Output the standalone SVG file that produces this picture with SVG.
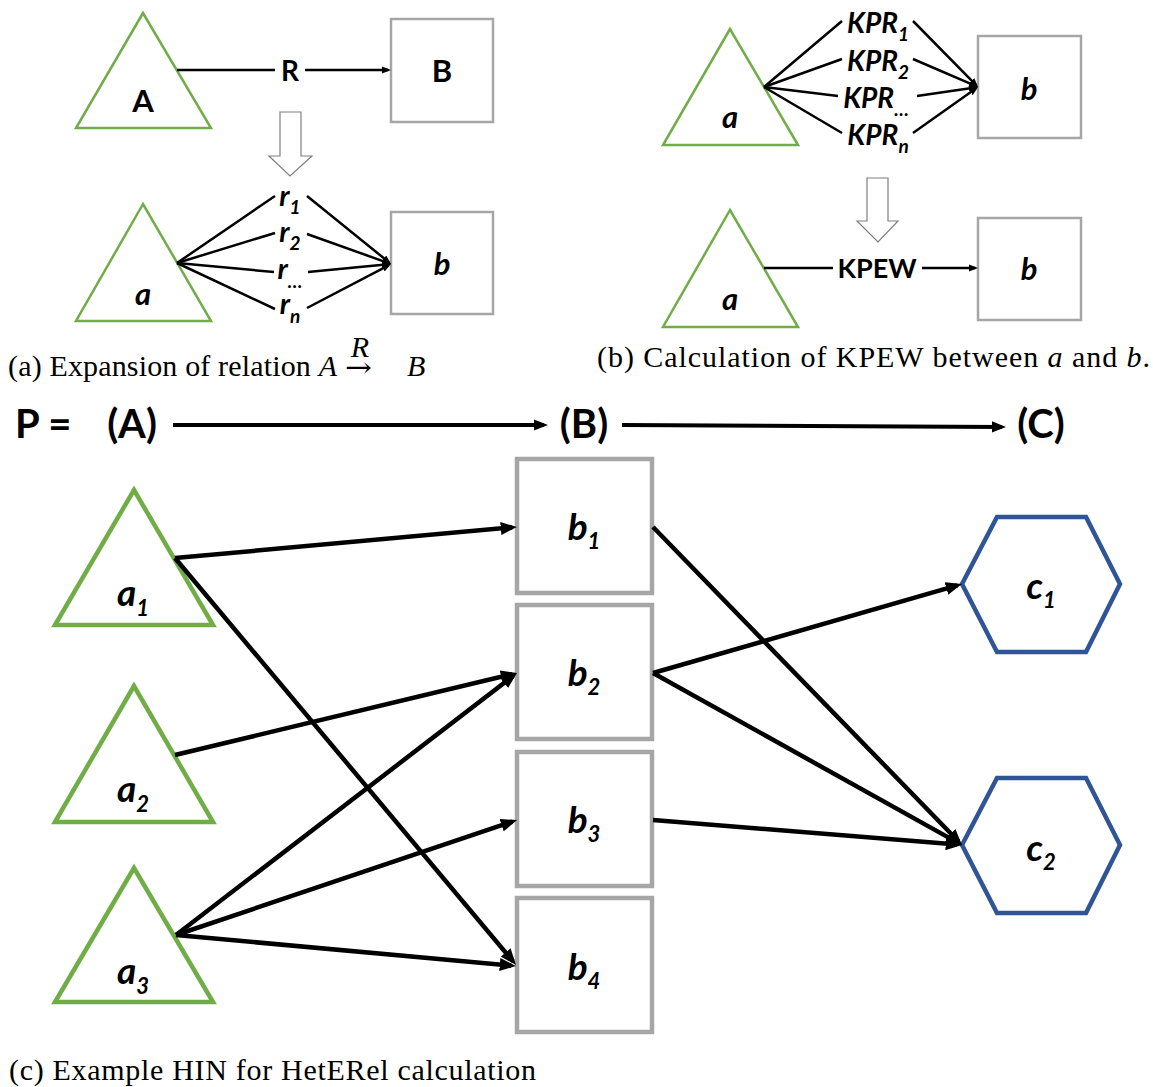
<svg xmlns="http://www.w3.org/2000/svg" width="1153" height="1087" viewBox="0 0 1153 1087">
  <style>
    .tri { fill: #ffffff; stroke: #70ad47; stroke-linejoin: miter; }
    .box { fill: #ffffff; stroke: #a6a6a6; }
    .hex { fill: #ffffff; stroke: #2f5597; stroke-linejoin: miter; }
    .thin { stroke-width: 2.5; }
    .thick { stroke-width: 4.5; }
    .edge { fill: none; stroke: #000000; }
    .edge-s { stroke-width: 2.5; }
    .edge-l { stroke-width: 4.5; }
    .hollow { fill: #ffffff; stroke: #7f7f7f; stroke-width: 1.2; }
    .lbl { font-family: "Lato", "Open Sans", "Liberation Sans", sans-serif; font-weight: bold; fill: #000000; text-anchor: middle; }
    .start { text-anchor: start; }
    .it { font-style: italic; }
    .cap { font-family: "Liberation Serif", "DejaVu Serif", serif; font-size: 30px; fill: #000000; }
    .sym { font-family: "DejaVu Serif", "Liberation Serif", serif; fill: #000000; }
  </style>
  <defs>
    <marker id="ah" viewBox="0 0 10 8" refX="7" refY="4" markerWidth="3.6" markerHeight="2.9" orient="auto" markerUnits="strokeWidth">
      <path d="M0,0 L10,4 L0,8 z" fill="#000000"/>
    </marker>
  </defs>

  <!-- (a) expansion of relation A -R-> B -->
  <g id="a-node-A">
    <polygon class="tri thin" points="143,13 76,128 211,128"/>
    <text class="lbl" x="143" y="112" font-size="31">A</text>
  </g>
  <g id="a-node-B">
    <rect class="box thin" x="391" y="19" width="102" height="103"/>
    <text class="lbl" x="442" y="82" font-size="31">B</text>
  </g>
  <g id="a-expand-arrow">
    <polygon class="hollow" points="280,112 301,112 301,156 312,156 290,176 269,156 280,156"/>
  </g>
  <g id="a-node-a">
    <polygon class="tri thin" points="143,204 76,321 211,321"/>
    <text class="lbl it" x="143" y="305" font-size="31">a</text>
  </g>
  <g id="a-node-b">
    <rect class="box thin" x="391" y="212" width="102" height="102"/>
    <text class="lbl it" x="442" y="275" font-size="31">b</text>
  </g>

  <!-- (b) KPEW between a and b -->
  <g id="b-node-a">
    <polygon class="tri thin" points="730,29 663,145 798,145"/>
    <text class="lbl it" x="730" y="128" font-size="31">a</text>
  </g>
  <g id="b-node-b">
    <rect class="box thin" x="978" y="36" width="103" height="102"/>
    <text class="lbl it" x="1029" y="100" font-size="31">b</text>
  </g>
  <g id="b-collapse-arrow">
    <polygon class="hollow" points="867,178 888,178 888,221 898,221 878,242 857,221 867,221"/>
  </g>
  <g id="b-node-a2">
    <polygon class="tri thin" points="730,210 663,327 798,327"/>
    <text class="lbl it" x="730" y="310" font-size="31">a</text>
  </g>
  <g id="b-node-b2">
    <rect class="box thin" x="978" y="218" width="103" height="102"/>
    <text class="lbl it" x="1029" y="280" font-size="31">b</text>
  </g>

  <!-- (c) example HIN -->
  <g id="node-a1">
    <polygon class="tri thick" points="134,490 55,625 213,625"/>
    <text class="lbl it" x="133" y="606" font-size="37">a<tspan dy="10" font-size="22">1</tspan></text>
  </g>
  <g id="node-a2">
    <polygon class="tri thick" points="134,686 55,822 213,822"/>
    <text class="lbl it" x="133" y="802" font-size="37">a<tspan dy="10" font-size="22">2</tspan></text>
  </g>
  <g id="node-a3">
    <polygon class="tri thick" points="134,868 55,1002 213,1002"/>
    <text class="lbl it" x="133" y="984" font-size="37">a<tspan dy="10" font-size="22">3</tspan></text>
  </g>
  <g id="node-b1">
    <rect class="box thick" x="517" y="459" width="135" height="134"/>
    <text class="lbl it" x="584" y="540" font-size="37">b<tspan dy="9" font-size="22">1</tspan></text>
  </g>
  <g id="node-b2">
    <rect class="box thick" x="517" y="605" width="135" height="134"/>
    <text class="lbl it" x="584" y="686" font-size="37">b<tspan dy="9" font-size="22">2</tspan></text>
  </g>
  <g id="node-b3">
    <rect class="box thick" x="517" y="752" width="135" height="134"/>
    <text class="lbl it" x="584" y="833" font-size="37">b<tspan dy="9" font-size="22">3</tspan></text>
  </g>
  <g id="node-b4">
    <rect class="box thick" x="517" y="898" width="135" height="134"/>
    <text class="lbl it" x="584" y="980" font-size="37">b<tspan dy="9" font-size="22">4</tspan></text>
  </g>
  <g id="node-c1">
    <polygon class="hex thick" points="962,584 997,517 1086,517 1120,584 1086,652 997,652"/>
    <text class="lbl it" x="1041" y="599" font-size="37">c<tspan dy="9" font-size="22">1</tspan></text>
  </g>
  <g id="node-c2">
    <polygon class="hex thick" points="962,845 997,778 1086,778 1120,845 1086,913 997,913"/>
    <text class="lbl it" x="1041" y="861" font-size="37">c<tspan dy="9" font-size="22">2</tspan></text>
  </g>

  <!-- meta-path header -->
  <g id="metapath">
    <text class="lbl start" x="15" y="438" font-size="40">P =</text>
    <text class="lbl" x="132" y="438" font-size="40">(A)</text>
    <text class="lbl" x="584" y="438" font-size="40">(B)</text>
    <text class="lbl" x="1041" y="438" font-size="40">(C)</text>
  </g>

  <g id="connectors">
    <!-- (a) -->
    <line class="edge edge-s" x1="177" y1="70" x2="275" y2="70"/>
    <line class="edge edge-s" x1="305" y1="70" x2="388.3" y2="70" marker-end="url(#ah)"/>
    <text class="lbl" x="290" y="81" font-size="28">R</text>

    <line class="edge edge-s" x1="177" y1="263" x2="275" y2="196"/>
    <line class="edge edge-s" x1="177" y1="263" x2="275" y2="233"/>
    <line class="edge edge-s" x1="177" y1="263" x2="274" y2="272"/>
    <line class="edge edge-s" x1="177" y1="263" x2="275" y2="309"/>
    <line class="edge edge-s" x1="307" y1="196" x2="388.9" y2="262.3" marker-end="url(#ah)"/>
    <line class="edge edge-s" x1="307" y1="234" x2="388.5" y2="263.1" marker-end="url(#ah)"/>
    <line class="edge edge-s" x1="308" y1="272" x2="388.3" y2="264.3" marker-end="url(#ah)"/>
    <line class="edge edge-s" x1="307" y1="308" x2="388.6" y2="265.3" marker-end="url(#ah)"/>
    <text class="lbl it" x="290" y="206" font-size="29">r<tspan dy="8" font-size="19">1</tspan></text>
    <text class="lbl it" x="290" y="242" font-size="29">r<tspan dy="8" font-size="19">2</tspan></text>
    <text class="lbl it" x="290" y="279" font-size="29">r<tspan dy="9" font-size="19">…</tspan></text>
    <text class="lbl it" x="290" y="314" font-size="29">r<tspan dy="9" font-size="19">n</tspan></text>

    <!-- (b) -->
    <line class="edge edge-s" x1="764" y1="87" x2="842" y2="21"/>
    <line class="edge edge-s" x1="764" y1="87" x2="842" y2="59"/>
    <line class="edge edge-s" x1="764" y1="87" x2="838" y2="96"/>
    <line class="edge edge-s" x1="764" y1="87" x2="842" y2="133"/>
    <line class="edge edge-s" x1="913" y1="21" x2="976.1" y2="85.1" marker-end="url(#ah)"/>
    <line class="edge edge-s" x1="913" y1="59" x2="975.5" y2="85.9" marker-end="url(#ah)"/>
    <line class="edge edge-s" x1="917" y1="96" x2="975.3" y2="87.4" marker-end="url(#ah)"/>
    <line class="edge edge-s" x1="913" y1="133" x2="975.8" y2="88.6" marker-end="url(#ah)"/>
    <text class="lbl it" x="878" y="33" font-size="28">KPR<tspan dy="8" font-size="19">1</tspan></text>
    <text class="lbl it" x="878" y="71" font-size="28">KPR<tspan dy="8" font-size="19">2</tspan></text>
    <text class="lbl it" x="876" y="108" font-size="28">KPR<tspan dy="8" font-size="19">…</tspan></text>
    <text class="lbl it" x="878" y="145" font-size="28">KPR<tspan dy="8" font-size="19">n</tspan></text>

    <line class="edge edge-s" x1="764" y1="268" x2="833" y2="268"/>
    <line class="edge edge-s" x1="922" y1="268" x2="975.3" y2="268" marker-end="url(#ah)"/>
    <text class="lbl" x="877" y="278" font-size="27">KPEW</text>

    <!-- (c) meta-path -->
    <line class="edge" stroke-width="4" x1="173" y1="425" x2="543.7" y2="425" marker-end="url(#ah)"/>
    <line class="edge" stroke-width="4" x1="622" y1="425" x2="1001.7" y2="426.9" marker-end="url(#ah)"/>

    <!-- (c) HIN edges -->
    <line class="edge edge-l" x1="175" y1="558" x2="512.1" y2="527.4" marker-end="url(#ah)"/>
    <line class="edge edge-l" x1="175" y1="558" x2="512.9" y2="961.2" marker-end="url(#ah)"/>
    <line class="edge edge-l" x1="175" y1="755" x2="512.2" y2="674.1" marker-end="url(#ah)"/>
    <line class="edge edge-l" x1="176" y1="935" x2="513.1" y2="676.0" marker-end="url(#ah)"/>
    <line class="edge edge-l" x1="176" y1="935" x2="512.4" y2="821.6" marker-end="url(#ah)"/>
    <line class="edge edge-l" x1="176" y1="935" x2="511.1" y2="965.6" marker-end="url(#ah)"/>
    <line class="edge edge-l" x1="653" y1="527" x2="958.6" y2="841.5" marker-end="url(#ah)"/>
    <line class="edge edge-l" x1="653" y1="673" x2="957.3" y2="585.4" marker-end="url(#ah)"/>
    <line class="edge edge-l" x1="653" y1="673" x2="957.7" y2="842.6" marker-end="url(#ah)"/>
    <line class="edge edge-l" x1="653" y1="820" x2="957.1" y2="844.6" marker-end="url(#ah)"/>
  </g>

  <!-- sub-figure captions -->
  <text class="cap" x="8" y="376" textLength="329" lengthAdjust="spacing">(a) Expansion of relation <tspan font-style="italic">A</tspan></text>
  <text class="sym" x="345" y="377" font-size="28" textLength="27" lengthAdjust="spacingAndGlyphs">→</text>
  <text class="cap" x="360" y="357" font-size="20" font-style="italic" text-anchor="middle">R</text>
  <text class="cap" x="407" y="376" font-style="italic">B</text>
  <text class="cap" x="597" y="367" textLength="553" lengthAdjust="spacing">(b) Calculation of KPEW between <tspan font-style="italic">a</tspan> and <tspan font-style="italic">b</tspan>.</text>
  <text class="cap" x="9" y="1080" textLength="527" lengthAdjust="spacing">(c) Example HIN for HetERel calculation</text>
</svg>
